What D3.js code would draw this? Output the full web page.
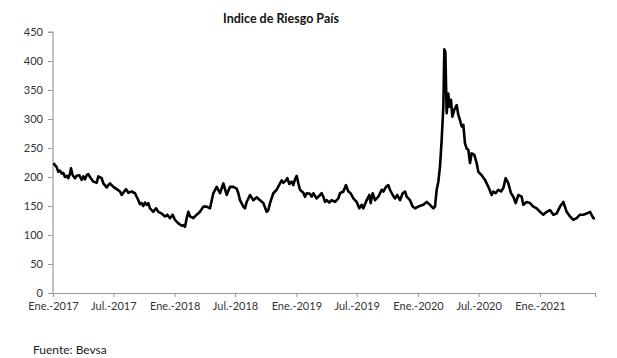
<!DOCTYPE html>
<html>
<head>
<meta charset="utf-8">
<script src="https://cdn.jsdelivr.net/npm/d3@7"></script>
<style>
  body { margin: 0; background: #fff; }
  svg { display: block; font-family: Lato, "Open Sans", sans-serif; }
</style>
</head>
<body>
<svg width="617" height="358"></svg>
<script>
const dates = [
  "2017-01-02","2017-01-12","2017-01-17","2017-01-22","2017-01-27","2017-02-01","2017-02-06","2017-02-11",
  "2017-02-16","2017-02-21","2017-02-24","2017-03-01","2017-03-08","2017-03-13","2017-03-21","2017-03-28",
  "2017-04-02","2017-04-07","2017-04-12","2017-04-17","2017-04-22","2017-05-02","2017-05-12","2017-05-17",
  "2017-05-27","2017-06-01","2017-06-11","2017-06-16","2017-06-21","2017-07-01","2017-07-11","2017-07-21",
  "2017-07-26","2017-07-31","2017-08-08","2017-08-15","2017-08-25","2017-09-04","2017-09-09","2017-09-14",
  "2017-09-19","2017-09-24","2017-09-29","2017-10-04","2017-10-09","2017-10-14","2017-10-19","2017-10-29",
  "2017-11-06","2017-11-13","2017-11-23","2017-12-03","2017-12-10","2017-12-18","2017-12-26","2018-01-02",
  "2018-01-12","2018-01-22","2018-01-27","2018-02-01","2018-02-06","2018-02-11",
  "2018-02-16","2018-02-26","2018-03-08","2018-03-18","2018-03-28","2018-04-07","2018-04-17","2018-04-27",
  "2018-05-07","2018-05-17","2018-05-27","2018-06-06","2018-06-16","2018-06-26","2018-07-06","2018-07-11",
  "2018-07-16","2018-07-26","2018-07-31","2018-08-05","2018-08-15","2018-08-25","2018-09-04","2018-09-14",
  "2018-09-24","2018-10-04","2018-10-09","2018-10-14","2018-10-24","2018-11-03","2018-11-13","2018-11-18",
  "2018-11-23","2018-12-01","2018-12-05","2018-12-11","2018-12-18","2018-12-23","2018-12-28","2019-01-02",
  "2019-01-07","2019-01-12","2019-01-22","2019-01-27","2019-02-01","2019-02-11","2019-02-16","2019-02-21",
  "2019-03-03","2019-03-13","2019-03-18","2019-03-23","2019-03-28","2019-04-02","2019-04-10","2019-04-17",
  "2019-04-27","2019-05-07","2019-05-12","2019-05-22","2019-05-30","2019-06-06","2019-06-13","2019-06-21",
  "2019-07-01","2019-07-09","2019-07-16","2019-07-21","2019-07-31","2019-08-08","2019-08-12","2019-08-18",
  "2019-08-25","2019-09-04","2019-09-14","2019-09-19","2019-09-27","2019-10-04","2019-10-09","2019-10-17",
  "2019-10-24","2019-10-31","2019-11-08","2019-11-16","2019-11-23","2019-11-28","2019-12-08","2019-12-16",
  "2019-12-23","2020-01-02","2020-01-17","2020-01-27","2020-02-06","2020-02-16","2020-02-21","2020-02-26",
  "2020-03-02","2020-03-07","2020-03-12","2020-03-17","2020-03-20","2020-03-23","2020-03-27","2020-04-01",
  "2020-04-04","2020-04-09","2020-04-13","2020-04-19","2020-04-26","2020-05-01","2020-05-06","2020-05-11",
  "2020-05-16","2020-05-21","2020-05-26","2020-05-31","2020-06-05","2020-06-10","2020-06-18","2020-06-25",
  "2020-06-30","2020-07-10","2020-07-20","2020-07-30","2020-08-09","2020-08-14","2020-08-21","2020-08-29",
  "2020-09-06","2020-09-13","2020-09-20","2020-09-28","2020-10-06","2020-10-13","2020-10-20","2020-10-28",
  "2020-11-07","2020-11-12","2020-11-22","2020-12-02","2020-12-12","2020-12-22","2021-01-01","2021-01-11",
  "2021-01-21","2021-01-31","2021-02-10","2021-02-20","2021-03-02","2021-03-12","2021-03-22","2021-04-01",
  "2021-04-11","2021-04-21","2021-05-01","2021-05-11","2021-05-21","2021-05-31","2021-06-10","2021-06-15"
];

const values = [
  224,217,209,211,206,207,200,202,
  198,206,215,203,198,202,203,195,
  201,196,203,205,200,192,190,201,
  198,189,182,186,189,183,179,175,
  169,173,179,173,175,172,166,160,
  153,155,150,156,152,155,146,140,
  146,140,137,132,135,129,135,126,
  120,116,117,114,129,140,
  132,129,135,140,149,149,146,172,
  183,172,189,169,183,183,180,172,
  160,149,146,157,169,160,165,160,
  155,140,143,155,172,178,189,194,
  190,194,198,188,192,186,196,202,
  189,178,173,166,172,171,166,172,
  163,169,172,166,157,160,156,160,
  157,163,172,175,186,175,172,163,
  157,146,152,146,160,169,155,172,
  160,166,178,175,183,186,178,169,
  163,169,160,172,175,166,160,149,
  146,149,152,157,152,146,149,178,
  192,218,264,321,420,416,310,344,
  321,333,304,316,324,307,298,287,
  290,258,249,247,224,241,238,224,
  209,203,195,183,169,175,172,178,
  175,181,198,189,172,166,155,169,
  166,152,157,155,149,146,140,135,
  140,143,135,137,149,157,140,132,
  126,129,135,135,137,140,129,129
];

const yTicks = [0, 50, 100, 150, 200, 250, 300, 350, 400, 450];
const xTickDates = ["2017-01-01","2017-07-01","2018-01-01","2018-07-01","2019-01-01",
                    "2019-07-01","2020-01-01","2020-07-01","2021-01-01"];
const xTickLabels = ["Ene.-2017","Jul.-2017","Ene.-2018","Jul.-2018","Ene.-2019",
                     "Jul.-2019","Ene.-2020","Jul.-2020","Ene.-2021"];

const parse = d3.utcParse("%Y-%m-%d");
const data = dates.map((d, i) => ({ date: parse(d), value: values[i] }));
const tickDates = xTickDates.map(parse);

const svg = d3.select("svg");
const axisColor = "#9a9a9a";
const textColor = "#333";

const x = d3.scaleUtc()
  .domain([parse("2017-01-01"), parse("2021-06-15")])
  .range([53, 595]);

const y = d3.scaleLinear()
  .domain([0, 450])
  .range([293, 32]);

// title
svg.append("text")
  .attr("x", 281)
  .attr("y", 23)
  .attr("text-anchor", "middle")
  .attr("font-weight", "bold")
  .attr("font-size", "12.5px")
  .attr("fill", "#111")
  .text("Indice de Riesgo País");

// y axis
const yAxis = svg.append("g")
  .attr("transform", "translate(53,0)")
  .call(d3.axisLeft(y).tickValues(yTicks).tickSize(5).tickPadding(5));

// x axis
const xAxis = svg.append("g")
  .attr("transform", "translate(0,293)")
  .call(d3.axisBottom(x)
    .tickValues(tickDates)
    .tickSize(4)
    .tickPadding(5)
    .tickFormat((d, i) => xTickLabels[i]));

[yAxis, xAxis].forEach((ax) => {
  ax.select(".domain").attr("stroke", axisColor).attr("stroke-width", 1.2);
  ax.selectAll(".tick line").attr("stroke", axisColor);
  ax.selectAll(".tick text")
    .attr("fill", textColor)
    .attr("font-size", "11px")
    .attr("font-family", "Lato, 'Open Sans', sans-serif");
});
yAxis.select(".domain").attr("d", `M-5,${y(450)}H0V${y(0)}`);

// series
const line = d3.line()
  .x((d) => x(d.date))
  .y((d) => y(d.value));

svg.append("path")
  .datum(data)
  .attr("fill", "none")
  .attr("stroke", "#000")
  .attr("stroke-width", 2.6)
  .attr("stroke-linejoin", "round")
  .attr("d", line);

// source
svg.append("text")
  .attr("x", 33)
  .attr("y", 354)
  .attr("font-size", "12px")
  .attr("fill", "#222")
  .text("Fuente: Bevsa");
</script>
</body>
</html>
